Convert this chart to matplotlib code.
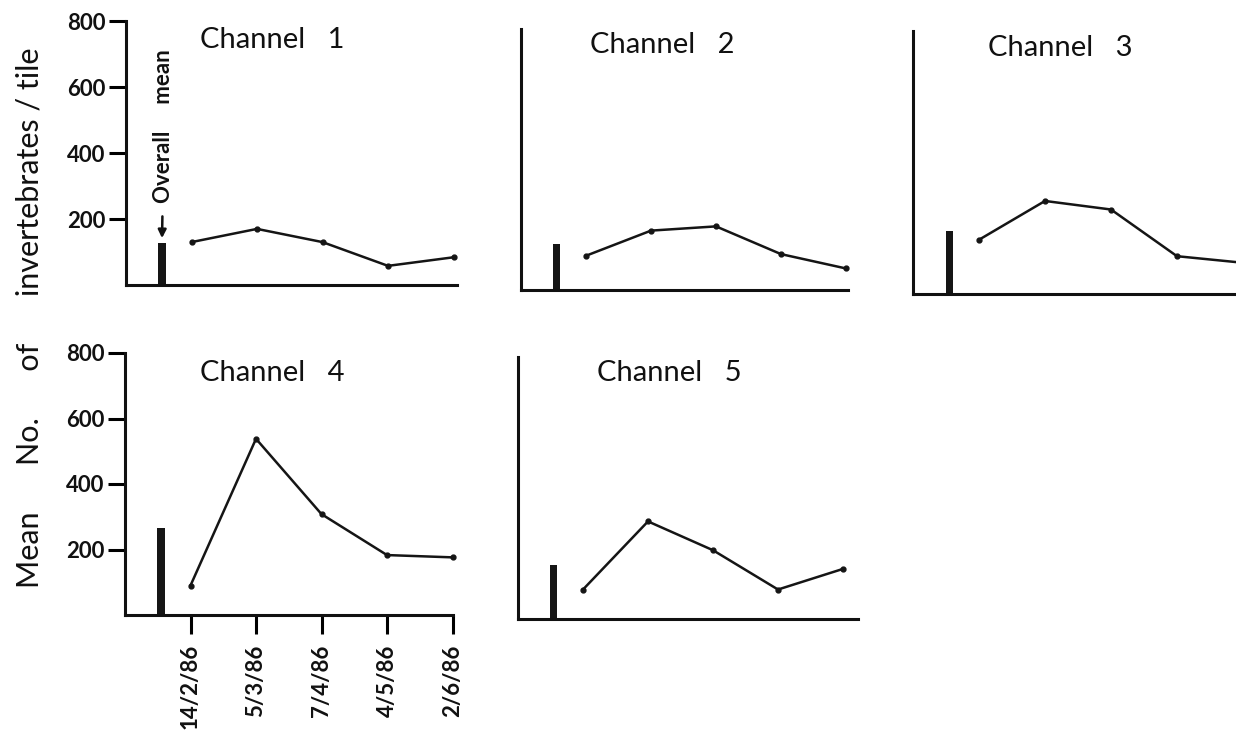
import numpy as np
import matplotlib.pyplot as plt

plt.rcParams['font.family'] = ['Lato', 'DejaVu Sans']

dates = ['14/2/86', '5/3/86', '7/4/86', '4/5/86', '2/6/86']
channels = ['Channel   1', 'Channel   2', 'Channel   3', 'Channel   4', 'Channel   5']

# mean number of invertebrates per tile on each sampling date
ch1 = [130, 170, 130, 58, 84]
ch2 = [105, 182, 195, 110, 66]
ch3 = [165, 283, 257, 115, 95]
ch4 = [90, 538, 308, 183, 176]
ch5 = [90, 298, 210, 90, 153]
series = [ch1, ch2, ch3, ch4, ch5]

# overall mean per channel
overall = [128, 142, 192, 265, 166]

yticks = [200, 400, 600, 800]

W, H = 1236, 732
fig = plt.figure(figsize=(W / 100, H / 100), dpi=100)

# panel boxes in pixels: left, right, top, bottom
boxes = [(126, 457, 21, 285),
         (521, 848, 29, 290),
         (913, 1250, 31, 294),
         (125, 453, 353, 615),
         (518, 858, 357, 619)]
spacing = [65.5, 65, 66, 65.5, 65]
title_pos = [(200, 40), (590, 45), (988, 48), (200, 373), (597, 373)]

bar_x = 0.55
xs = np.arange(1, 6)

for i in range(5):
    l, r, t, b = boxes[i]
    ax = fig.add_axes([l / W, 1 - b / H, (r - l) / W, (b - t) / H])
    ax.set_xlim(0, (r - l) / spacing[i])
    ax.set_ylim(0, 800)
    for s in ['top', 'right']:
        ax.spines[s].set_visible(False)
    for s in ['left', 'bottom']:
        ax.spines[s].set_linewidth(2.2)
        ax.spines[s].set_color('#111111')

    ax.bar(bar_x, overall[i], width=0.11, color='#151515')
    ax.plot(xs, series[i], color='#151515', lw=1.8, marker='o', ms=3.5,
            clip_on=False)

    fig.text(title_pos[i][0] / W, 1 - title_pos[i][1] / H, channels[i],
             fontsize=21, va='center', ha='left', color='#111111')

    if i in (0, 3):
        ax.set_yticks(yticks)
        ax.set_yticklabels([str(v) for v in yticks], fontsize=16,
                           fontweight='bold', color='#111111')
        ax.tick_params(axis='y', length=12, width=2.2, pad=3)
    else:
        ax.set_yticks([])

    if i == 3:
        ax.set_xticks(xs)
        ax.set_xticklabels(dates, rotation=90, fontsize=16,
                           fontweight='bold', color='#111111')
        ax.tick_params(axis='x', length=14, width=2.2, pad=7)
    else:
        ax.set_xticks([])

    if i == 0:
        ax.annotate('Overall     mean', xy=(bar_x, 142), xytext=(bar_x + 0.03, 250),
                    rotation=90, ha='center', va='bottom', fontsize=16,
                    fontweight='bold', color='#111111',
                    arrowprops=dict(arrowstyle='-|>', lw=1.8, color='#111111',
                                    mutation_scale=12, shrinkA=8, shrinkB=0))

fig.text(30 / W, 1 - 318 / H,
         'Mean      No.      of      invertebrates / tile',
         rotation=90, fontsize=22, ha='center', va='center', color='#111111')

fig.savefig('out.png', dpi=100)
